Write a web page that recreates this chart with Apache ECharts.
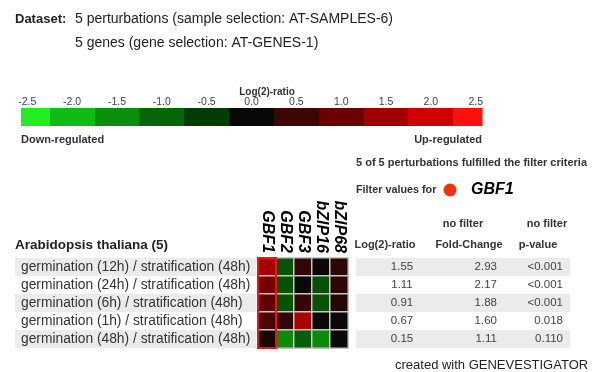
<!DOCTYPE html>
<html>
<head>
<meta charset="utf-8">
<script src="https://cdn.jsdelivr.net/npm/echarts@6/dist/echarts.min.js"></script>
<style>
html,body{margin:0;padding:0;background:#fff;}
#main{width:592px;height:372px;}
</style>
</head>
<body>
<div id="main"></div>
<script>
// ---- data ----
const genes = ['GBF1', 'GBF2', 'GBF3', 'bZIP16', 'bZIP68'];
const perturbations = [
  'germination (12h) / stratification (48h)',
  'germination (24h) / stratification (48h)',
  'germination (6h) / stratification (48h)',
  'germination (1h) / stratification (48h)',
  'germination (48h) / stratification (48h)'
];
// log2-ratio per perturbation (rows) x gene (columns)
const row12h = [1.55, -0.80, 0.40, 0.05, 0.35];
const row24h = [1.11, -0.80, 0.03, -0.75, 0.35];
const row6h  = [0.91, -0.80, 0.45, -0.80, 0.30];
const row1h  = [0.67, 0.40, 1.60, 0.00, 0.05];
const row48h = [0.15, -1.45, -0.90, -1.45, 0.05];
const heatRows = [row12h, row24h, row6h, row1h, row48h];
const filterGeneIndex = 0;
const log2Ratio = [1.55, 1.11, 0.91, 0.67, 0.15];
const foldChange = [2.93, 2.17, 1.88, 1.60, 1.11];
const pValue = ['<0.001', '<0.001', '<0.001', '0.018', '0.110'];
const legendTicks = [-2.5, -2.0, -1.5, -1.0, -0.5, 0.0, 0.5, 1.0, 1.5, 2.0, 2.5];
const legendColors = ['#22ee22', '#11bb11', '#0a8f0a', '#066606', '#043a04', '#080808',
                      '#3a0606', '#6a0000', '#a00000', '#d00000', '#ff1010'];

// ---- chart ----
const FONT = '"Liberation Sans", Arial, sans-serif';
const chart = echarts.init(document.getElementById('main'));
const heatData = [];
heatRows.forEach((r, ri) => r.forEach((v, gi) => heatData.push([gi, ri, v])));
const LMIN = -2.57, LMAX = 2.57;

function txt(x, y, text, opt) {
  opt = opt || {};
  return {
    type: 'text', x: x, y: y, silent: true,
    style: {
      text: text,
      font: opt.font || ('12px ' + FONT),
      fill: opt.fill || '#333',
      align: opt.align || 'left', textAlign: opt.align || 'left',
      verticalAlign: 'middle', textVerticalAlign: 'middle'
    }
  };
}

const option = {
  animation: false,
  backgroundColor: '#fff',
  textStyle: { fontFamily: FONT },
  grid: [
    { left: 21, top: 108, width: 461, height: 18 },
    { left: 15, top: 258, width: 241, height: 90 },
    { left: 258, top: 258, width: 90, height: 90 },
    { left: 356, top: 258, width: 214, height: 90 }
  ],
  xAxis: [
    { gridIndex: 0, type: 'value', min: LMIN, max: LMAX, position: 'top',
      axisLine: { show: false }, axisTick: { show: false }, splitLine: { show: false },
      axisLabel: { customValues: legendTicks, formatter: v => Number(v).toFixed(1),
        margin: 0, fontSize: 10.5, color: '#444', fontFamily: FONT } },
    { gridIndex: 1, type: 'value', min: 0, max: 1, show: false },
    { gridIndex: 2, type: 'category', data: genes, position: 'top',
      axisLine: { show: false }, axisTick: { show: false },
      axisLabel: { rotate: 90, interval: 0, margin: 5, fontSize: 16, fontWeight: 'bold',
        fontStyle: 'italic', color: '#000', fontFamily: FONT } },
    { gridIndex: 3, type: 'value', min: 0, max: 1, show: false }
  ],
  yAxis: [
    { gridIndex: 0, type: 'value', min: 0, max: 1, show: false },
    { gridIndex: 1, type: 'category', data: perturbations, inverse: true,
      axisLine: { show: false }, axisTick: { show: false },
      axisLabel: { inside: true, interval: 0, margin: 6, fontSize: 13.8, color: '#333', fontFamily: FONT },
      splitLine: { show: false },
      splitArea: { show: true, interval: 0, areaStyle: { color: ['#ebebeb', '#ffffff'] } } },
    { gridIndex: 2, type: 'category', data: perturbations, inverse: true, show: false },
    { gridIndex: 3, type: 'category', data: perturbations, inverse: true,
      axisLine: { show: false }, axisTick: { show: false }, axisLabel: { show: false },
      splitLine: { show: false },
      splitArea: { show: true, interval: 0, areaStyle: { color: ['#ebebeb', '#ffffff'] } } }
  ],
  visualMap: [
    { type: 'continuous', show: false, seriesIndex: 0, dimension: 0, min: -2.5, max: 2.5,
      inRange: { color: legendColors } },
    { type: 'continuous', show: false, seriesIndex: 1, dimension: 2, min: -2.5, max: 2.5,
      inRange: { color: legendColors } }
  ],
  series: [
    { type: 'custom', xAxisIndex: 0, yAxisIndex: 0,
      data: legendTicks.map(v => [v]), encode: { x: 0 },
      renderItem: function (params, api) {
        const v = api.value(0);
        const lo = Math.max(v - 0.25, LMIN), hi = Math.min(v + 0.25, LMAX);
        const p0 = api.coord([lo, 1]), p1 = api.coord([hi, 0]);
        return { type: 'rect',
          shape: { x: Math.round(p0[0]), y: p0[1], width: Math.round(p1[0]) - Math.round(p0[0]) + 0.5, height: p1[1] - p0[1] },
          style: { fill: api.visual('color') } };
      } },
    { type: 'heatmap', xAxisIndex: 2, yAxisIndex: 2, data: heatData,
      itemStyle: { borderColor: '#c6c6c6', borderWidth: 1.5 } },
    { type: 'custom', xAxisIndex: 2, yAxisIndex: 2, z: 5,
      data: [[filterGeneIndex, 0]],
      renderItem: function (params, api) {
        const c = api.coord([api.value(0), 0]);
        const s = api.size([1, 1]);
        return { type: 'rect',
          shape: { x: c[0] - s[0] / 2, y: c[1] - s[1] / 2, width: s[0], height: s[1] * perturbations.length },
          style: { fill: null, stroke: '#e8141a', lineWidth: 2 } };
      } },
    { type: 'custom', xAxisIndex: 3, yAxisIndex: 3,
      data: perturbations.map((p, i) => [0, i]),
      renderItem: function (params, api) {
        const i = api.value(1);
        const y = api.coord([0, i])[1];
        const x0 = params.coordSys.x;
        const f = '11.5px ' + FONT;
        const mk = (x, t, a) => ({ type: 'text', x: x, y: y,
          style: { text: t, font: f, fill: '#444', align: a, textAlign: a, verticalAlign: 'middle', textVerticalAlign: 'middle' } });
        return { type: 'group', children: [
          mk(x0 + 46, log2Ratio[i].toFixed(2), 'center'),
          mk(x0 + 141, foldChange[i].toFixed(2), 'right'),
          mk(x0 + 207, pValue[i], 'right')
        ] };
      } }
  ],
  graphic: [
    txt(15, 19, 'Dataset:', { font: 'bold 13px ' + FONT, fill: '#222' }),
    txt(75, 19, '5 perturbations (sample selection: AT-SAMPLES-6)', { font: '14px ' + FONT, fill: '#222' }),
    txt(75, 43, '5 genes (gene selection: AT-GENES-1)', { font: '14px ' + FONT, fill: '#222' }),
    txt(267, 92, 'Log(2)-ratio', { font: 'bold 10px ' + FONT, fill: '#333', align: 'center' }),
    txt(21, 140, 'Down-regulated', { font: 'bold 11px ' + FONT, fill: '#333' }),
    txt(482, 140, 'Up-regulated', { font: 'bold 11px ' + FONT, fill: '#333', align: 'right' }),
    txt(356, 163, '5 of 5 perturbations fulfilled the filter criteria', { font: 'bold 11px ' + FONT, fill: '#333' }),
    txt(356, 190, 'Filter values for', { font: 'bold 10.8px ' + FONT, fill: '#333' }),
    { type: 'circle', shape: { cx: 450, cy: 190, r: 6.5 }, style: { fill: '#ee3311' } },
    txt(471, 190, 'GBF1', { font: 'italic bold 16px ' + FONT, fill: '#000' }),
    txt(463, 224, 'no filter', { font: 'bold 11px ' + FONT, fill: '#333', align: 'center' }),
    txt(547, 224, 'no filter', { font: 'bold 11px ' + FONT, fill: '#333', align: 'center' }),
    txt(385, 245, 'Log(2)-ratio', { font: 'bold 11px ' + FONT, fill: '#333', align: 'center' }),
    txt(469, 245, 'Fold-Change', { font: 'bold 11px ' + FONT, fill: '#333', align: 'center' }),
    txt(538, 245, 'p-value', { font: 'bold 11px ' + FONT, fill: '#333', align: 'center' }),
    txt(15, 245, 'Arabidopsis thaliana (5)', { font: 'bold 13.5px ' + FONT, fill: '#222' }),
    txt(395, 365, 'created with GENEVESTIGATOR', { font: '13px ' + FONT, fill: '#222' })
  ]
};
chart.setOption(option);
</script>
</body>
</html>
